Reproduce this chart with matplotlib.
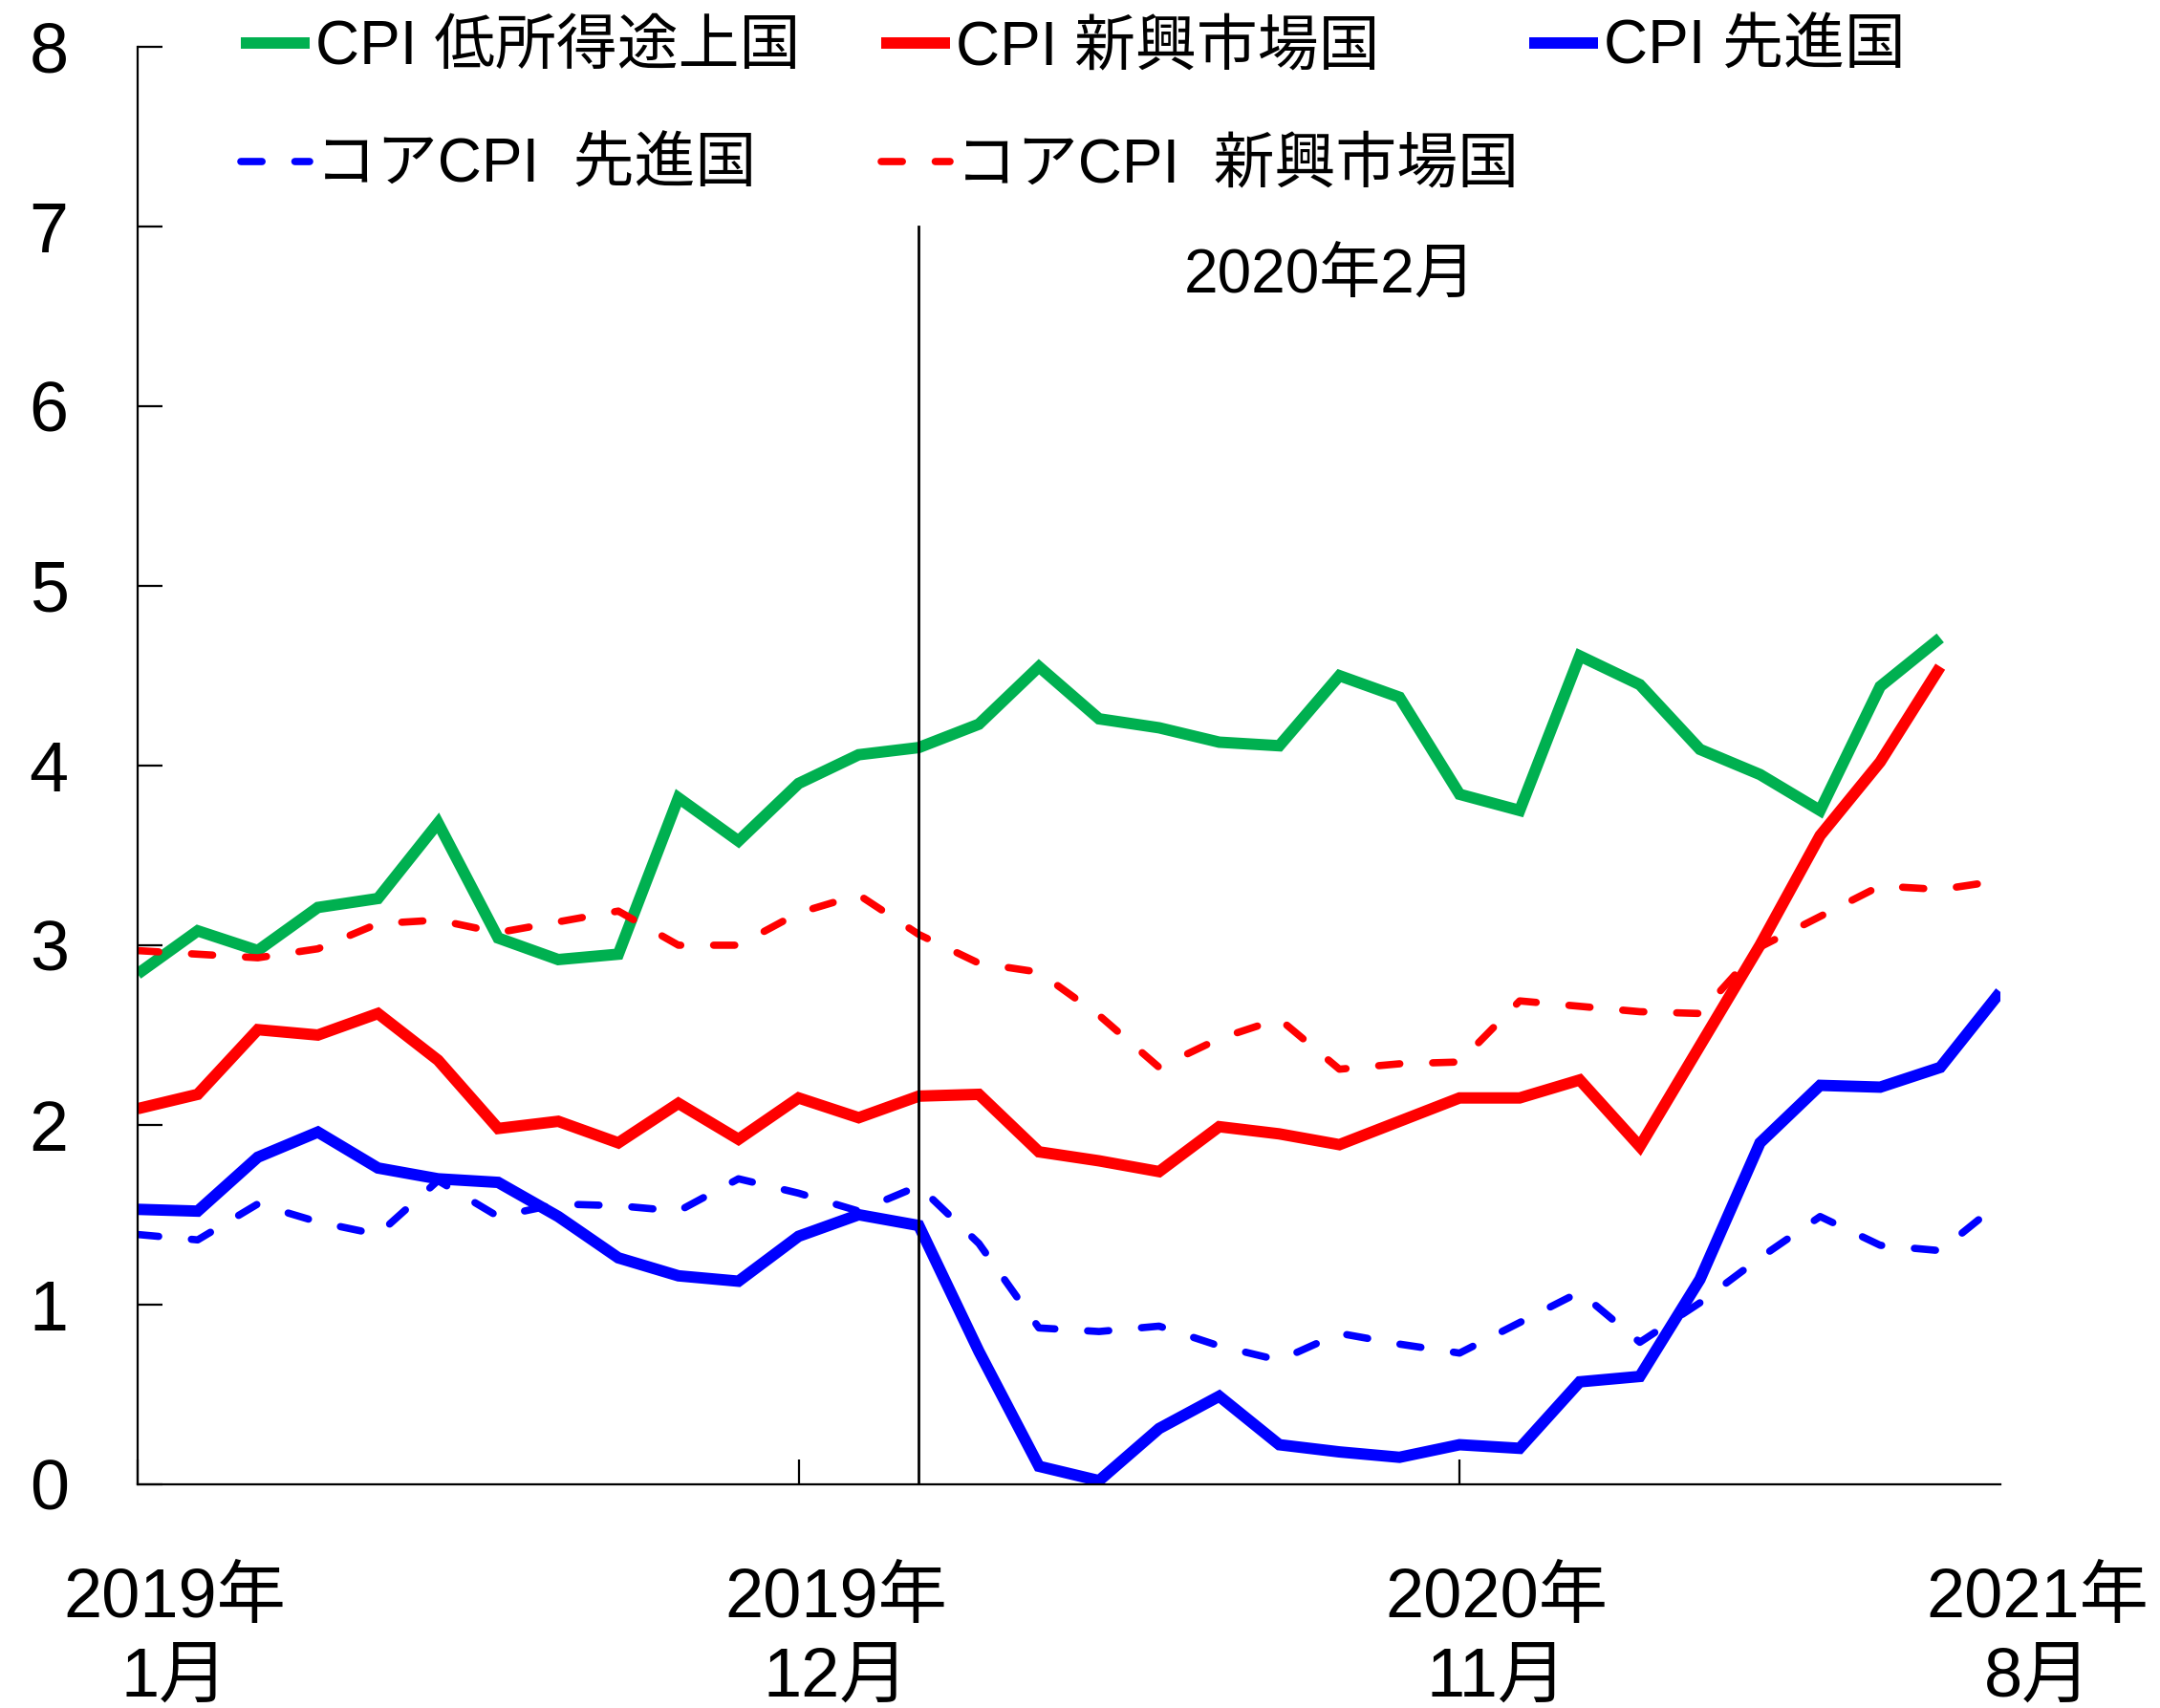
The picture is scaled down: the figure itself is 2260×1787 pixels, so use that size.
import matplotlib
matplotlib.use("Agg")
import matplotlib.pyplot as plt
import matplotlib.transforms as mtransforms

plt.rcParams["font.family"] = ["Liberation Sans", "Noto Sans CJK JP"]

# monthly series, 2019-01 .. 2021-08
months = [f"{y}-{m:02d}" for y in (2019, 2020, 2021) for m in range(1, 13)][:32]

cpi_low_income = [2.84, 3.08, 2.97, 3.21, 3.26, 3.68, 3.04, 2.92, 2.95, 3.82, 3.58, 3.90,
                  4.06, 4.10, 4.23, 4.55, 4.26, 4.21, 4.13, 4.11, 4.50, 4.38, 3.84, 3.75,
                  4.61, 4.45, 4.09, 3.95, 3.75, 4.44, 4.71]
cpi_emerging = [2.09, 2.17, 2.53, 2.50, 2.62, 2.36, 1.98, 2.02, 1.90, 2.12, 1.92, 2.15,
                2.04, 2.16, 2.17, 1.85, 1.80, 1.74, 1.99, 1.95, 1.89, 2.02, 2.15, 2.15,
                2.25, 1.88, 2.44, 3.00, 3.61, 4.02, 4.55]
cpi_advanced = [1.53, 1.52, 1.82, 1.96, 1.76, 1.70, 1.68, 1.49, 1.26, 1.16, 1.13, 1.38,
                1.50, 1.44, 0.74, 0.10, 0.02, 0.31, 0.49, 0.22, 0.18, 0.15, 0.22, 0.20,
                0.57, 0.60, 1.14, 1.90, 2.22, 2.21, 2.32, 2.74]
core_advanced = [1.39, 1.36, 1.56, 1.46, 1.39, 1.69, 1.49, 1.56, 1.55, 1.52, 1.70, 1.62,
                 1.52, 1.66, 1.34, 0.87, 0.85, 0.88, 0.77, 0.69, 0.84, 0.78, 0.73, 0.90,
                 1.07, 0.79, 1.01, 1.26, 1.49, 1.33, 1.30, 1.57]
core_emerging = [2.97, 2.95, 2.93, 2.98, 3.12, 3.14, 3.07, 3.13, 3.19, 3.00, 3.00, 3.18,
                 3.28, 3.06, 2.90, 2.85, 2.61, 2.32, 2.48, 2.59, 2.31, 2.34, 2.35, 2.69,
                 2.66, 2.63, 2.62, 2.99, 3.16, 3.33, 3.31, 3.36]

tick_months = ["2019-01", "2019-12", "2020-11", "2021-08"]
tick_labels = ["2019年\n1月", "2019年\n12月", "2020年\n11月", "2021年\n8月"]
event_month = "2020-02"

GREEN, RED, BLUE = "#00B050", "#FF0000", "#0000FF"

fig = plt.figure(figsize=(22.6, 17.87), dpi=100)
ax = fig.add_axes([0.0637, 0.131, 0.8624, 0.8416])

x = list(range(len(months)))
solid = dict(lw=8.6, solid_capstyle="butt", solid_joinstyle="miter")
dash = dict(lw=5.5, ls=(0, (2.9, 4.5)), dash_capstyle="round")

h_low, = ax.plot(x[:len(cpi_low_income)], cpi_low_income, color=GREEN, **solid)
h_em, = ax.plot(x[:len(cpi_emerging)], cpi_emerging, color=RED, **solid)
h_core_em, = ax.plot(x, core_emerging, color=RED, **dash)
h_core_adv, = ax.plot(x, core_advanced, color=BLUE, **dash)
h_adv, = ax.plot(x, cpi_advanced, color=BLUE, **solid)

ev = months.index(event_month)
ax.plot([ev, ev], [0, 7], color="black", lw=2.0)
ax.text(ev + 6.85, 6.72, "2020年2月", fontsize=46, ha="center", va="center")

ax.set_xlim(0, len(months) - 1)
ax.set_ylim(0, 8)
ax.set_yticks(range(9))
ax.set_xticks([months.index(m) for m in tick_months])
ax.set_xticklabels(tick_labels, fontsize=52, linespacing=1.3)
ax.tick_params(axis="y", direction="in", length=19, width=1.6, labelsize=53, pad=52)
ax.tick_params(axis="x", direction="in", length=19, width=1.6, pad=63)
ax.xaxis.get_major_ticks()[-1].tick1line.set_visible(False)
shift = mtransforms.ScaledTranslation(39 / 100, 0, fig.dpi_scale_trans)
for lab in ax.get_xticklabels():
    lab.set_transform(lab.get_transform() + shift)

for s in ("top", "right"):
    ax.spines[s].set_visible(False)
for s in ("left", "bottom"):
    ax.spines[s].set_linewidth(1.6)

leg_kw = dict(frameon=False, fontsize=46, handlelength=1.12, handletextpad=0.1,
              borderpad=0, borderaxespad=0, labelspacing=1.0, loc="upper left",
              bbox_transform=fig.transFigure)
W, H = 2260, 1787
legs = [
    ([h_low, h_core_adv], ["CPI 低所得途上国", "コアCPI  先進国"], 252),
    ([h_em, h_core_em], ["CPI 新興市場国", "コアCPI  新興市場国"], 922),
    ([h_adv], ["CPI 先進国"], 1600),
]
for handles, labels, px in legs:
    fig.legend(handles, labels, bbox_to_anchor=(px / W, 1 - 20 / H), **leg_kw)

fig.savefig("out.png", dpi=100)
